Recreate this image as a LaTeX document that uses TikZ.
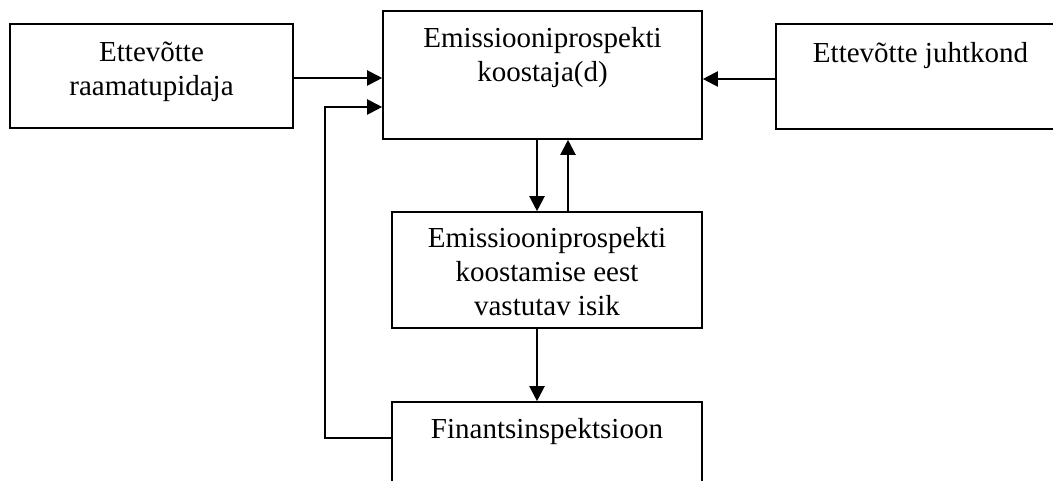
\documentclass[tikz,border=0pt]{standalone}
\usepackage{fontspec}
\setmainfont{Liberation Serif}
\usetikzlibrary{arrows.meta}
\tikzset{
  box/.style={draw=black, line width=1.6pt, inner sep=0pt},
  lbl/.style={inner sep=0pt, align=center, font=\fontsize{29}{34}\selectfont, anchor=base},
  arr/.style={line width=2.1pt, -{Triangle[length=15pt,width=15pt]}},
  ln/.style={line width=2.1pt}
}
\begin{document}
\begin{tikzpicture}[x=1pt,y=-1pt]
\useasboundingbox (0,0) rectangle (1053,481);
\clip (0,0) rectangle (1053,481);
% boxes
\node[box, minimum width=283pt, minimum height=104pt] (A) at (151.5,76) {};
\node[box, minimum width=319pt, minimum height=128pt] (B) at (542.5,75) {};
\node[box, minimum width=289pt, minimum height=105pt] (C) at (920.5,76.5) {};
\node[box, minimum width=310pt, minimum height=116pt] (D) at (547,270) {};
\node[box, minimum width=310pt, minimum height=100pt] (E) at (547,452) {};
% texts (anchor = baseline of the last line)
\node[lbl] (At) at (151.5,96) {Ettevõtte\\raamatupidaja};
\node[lbl] (Bt) at (542.5,82) {Emissiooniprospekti\\koostaja(d)};
\node[lbl] (Ct) at (920.5,63) {Ettevõtte juhtkond};
\node[lbl] (Dt) at (547,316) {Emissiooniprospekti\\koostamise eest\\vastutav isik};
\node[lbl] (Et) at (547,438) {Finantsinspektsioon};
% connectors
\coordinate (bend) at (325,107);
\coordinate (dn) at (537,0);
\coordinate (up) at (568,0);
\draw[arr] ([yshift=-2pt]A.east) -- ([yshift=-2pt]A.east -| B.west);
\draw[arr] ([yshift=-2.5pt]C.west) -- ([yshift=-2.5pt]C.west -| B.east);
\draw[arr] (B.south -| dn) -- (D.north -| dn);
\draw[arr] (D.north -| up) -- (B.south -| up);
\draw[arr] (D.south -| dn) -- (E.north -| dn);
\draw[arr] (E.west |- Et.base) -| (bend) -- (bend -| B.west);
\end{tikzpicture}
\end{document}
